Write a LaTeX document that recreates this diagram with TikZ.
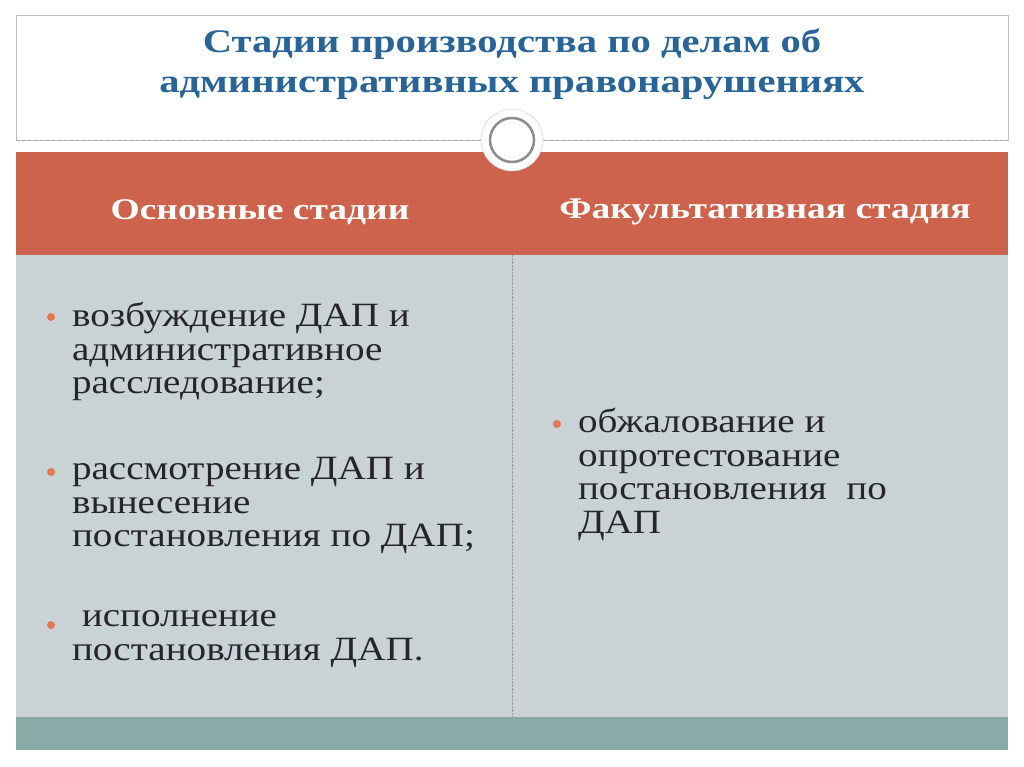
\documentclass[tikz,border=0pt]{standalone}
\usepackage{fontspec}
\setmainfont{Liberation Serif}
\begin{document}
\begin{tikzpicture}[x=1pt,y=-1pt,
  ttl/.style={text=titleblue,font=\fontsize{33}{40}\selectfont\bfseries,align=center,xscale=1.23,transform shape},
  hdr/.style={text=white,font=\fontsize{30}{32}\selectfont\bfseries,xscale=1.25,transform shape},
  body/.style={anchor=north west,align=left,text=black!85,font=\fontsize{34}{33.5}\selectfont,xscale=1.15,transform shape},
  dot/.style={circle,fill=bulletc,inner sep=0pt,minimum size=8pt}]
\definecolor{titleblue}{RGB}{40,100,150}
\definecolor{bandred}{RGB}{205,98,77}
\definecolor{bodygray}{RGB}{201,211,214}
\definecolor{teal}{RGB}{138,170,168}
\definecolor{bulletc}{RGB}{226,120,80}
\useasboundingbox (0,0) rectangle (1024,767);
\fill[white] (0,0) rectangle (1024,767);
\draw[black!25] (16,15) rectangle (1008,140);
\draw[black!35,dashed] (16,140) -- (1008,140);
\fill[bandred] (16,152) rectangle (1008,255);
\fill[bodygray] (16,255) rectangle (1008,717);
\fill[teal] (16,717) rectangle (1008,750);
\draw[black!40,densely dotted] (512,255) -- (512,717);
\node[circle,fill=white,draw=black!20,minimum size=62pt] (c) at (512,140) {};
\node[circle,draw=black!45,line width=2.5pt,minimum size=44pt] at (512,140) {};
\node[ttl] (t) at (512,64) {Стадии производства по делам об\\административных правонарушениях};
\node[hdr] (h1) at (260,212) {Основные стадии};
\node[hdr] (h2) at (765,212) {Факультативная стадия};
\node[body] (b1) at (68,299) {возбуждение ДАП и\\административное\\расследование;};
\node[body] (b2) at (68,454) {рассмотрение ДАП и\\вынесение\\постановления по ДАП;};
\node[body] (b3) at (68,607) {\ исполнение\\постановления ДАП.};
\node[body] (b4) at (574,405) {обжалование и\\опротестование\\постановления \ по\\ДАП};
\node[dot] at (51,317) {};
\node[dot] at (51,472) {};
\node[dot] at (51,625) {};
\node[dot] at (557,424) {};
\end{tikzpicture}
\end{document}
